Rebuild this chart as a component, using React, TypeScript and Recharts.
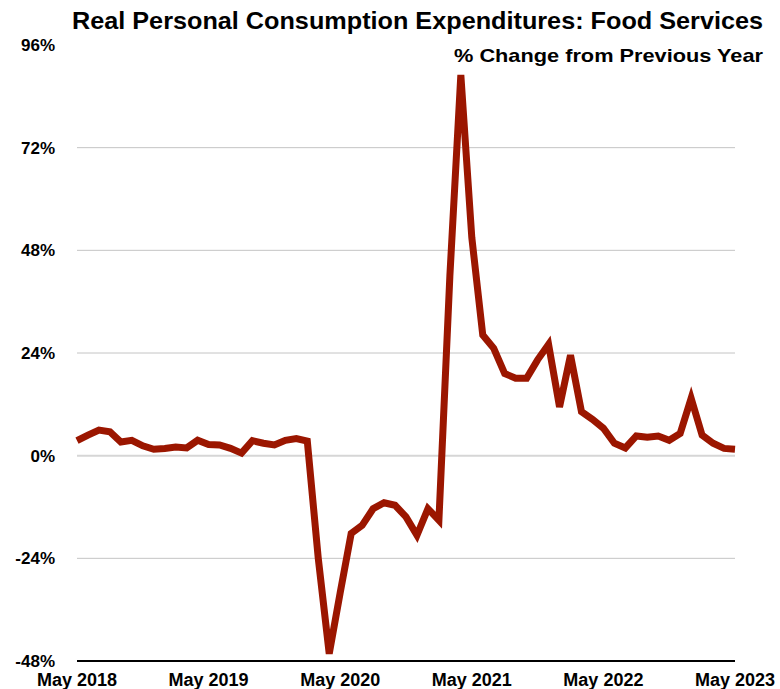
import { LineChart, Line, XAxis, YAxis, ReferenceLine } from "recharts";

// monthly % change from previous year, May 2018 .. May 2023
const yoyChange = [
  3.5, 4.8, 6.0, 5.6, 3.2, 3.6, 2.3, 1.5, 1.7, 2.0, 1.8, 3.6,
  2.6, 2.5, 1.7, 0.6, 3.5, 2.9, 2.5, 3.6, 4.0, 3.4, -24.0, -46.3,
  -32.0, -18.2, -16.3, -12.4, -11.0, -11.6, -14.3, -18.6, -12.4, -15.1, 42.0, 89.0,
  51.0, 28.2, 25.1, 19.2, 18.1, 18.1, 22.4, 26.0, 11.4, 23.5, 10.3, 8.5,
  6.4, 2.9, 1.8, 4.6, 4.3, 4.6, 3.6, 5.2, 13.4, 4.8, 2.9, 1.7,
  1.5,
];

const xTickPositions = [0, 12, 24, 36, 48, 60];
const xTickLabels = ["May 2018", "May 2019", "May 2020", "May 2021", "May 2022", "May 2023"];
const yTicks = [-48, -24, 0, 24, 48, 72, 96];
const gridValues = [72, 48, 24, 0, -24];

const data = yoyChange.map((v, i) => ({ month: i, value: v }));

const FONT = '"Liberation Sans", Arial, Helvetica, sans-serif';

const YTick = ({ y, payload }: any) => (
  <text x={55} y={y} dy={6} textAnchor="end" fontFamily={FONT} fontWeight="bold" fontSize={17} fill="#000">
    {payload.value}%
  </text>
);

const XTick = ({ x, payload }: any) => {
  const idx = xTickPositions.indexOf(payload.value);
  return (
    <text x={x} y={686} textAnchor="middle" fontFamily={FONT} fontWeight="bold" fontSize={18} fill="#000">
      {xTickLabels[idx]}
    </text>
  );
};

export default function App() {
  return (
    <div style={{ position: "absolute", left: 0, top: 0, width: 780, height: 689, background: "#fff" }}>
      <LineChart width={780} height={689} data={data} margin={{ top: 45, right: 45, bottom: 0, left: 0 }}>
        {gridValues.map((g) => (
          <ReferenceLine
            key={g}
            y={g}
            stroke={g === 0 ? "#d6d6d6" : "#c4c4c4"}
            strokeWidth={g === 0 ? 2 : 1}
          />
        ))}
        <XAxis
          dataKey="month"
          type="number"
          domain={[0, 60]}
          ticks={xTickPositions}
          height={28}
          tickLine={false}
          axisLine={{ stroke: "#000", strokeWidth: 2 }}
          tick={<XTick />}
          interval={0}
        />
        <YAxis
          width={77}
          domain={[-48, 96]}
          ticks={yTicks}
          axisLine={false}
          tickLine={false}
          tick={<YTick />}
          interval={0}
        />
        <Line
          type="linear"
          dataKey="value"
          stroke="#9b1600"
          strokeWidth={7}
          dot={false}
          isAnimationActive={false}
        />
      </LineChart>
      <svg width={780} height={70} style={{ position: "absolute", left: 0, top: 0, pointerEvents: "none" }}>
        <text x={763} y={29} textAnchor="end" fontFamily={FONT} fontWeight="bold" fontSize={24} textLength={691} lengthAdjust="spacingAndGlyphs" fill="#000">
          Real Personal Consumption Expenditures: Food Services
        </text>
        <text x={763} y={62} textAnchor="end" fontFamily={FONT} fontWeight="bold" fontSize={19} textLength={309} lengthAdjust="spacingAndGlyphs" fill="#000">
          % Change from Previous Year
        </text>
      </svg>
    </div>
  );
}
